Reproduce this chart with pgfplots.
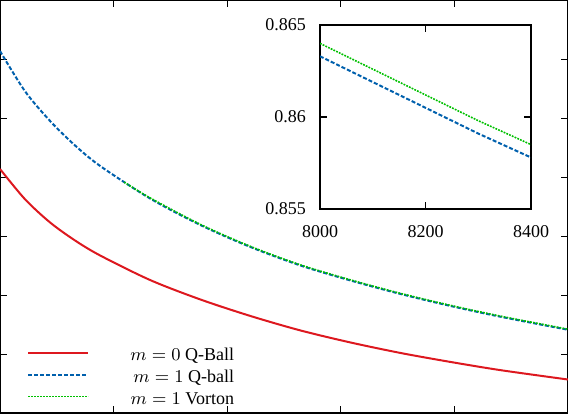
\documentclass[border=0pt]{standalone}
\usepackage{pgfplots}
\pgfplotsset{compat=1.18}
\usepackage{fontspec}
\setmainfont{Liberation Serif}
\definecolor{qred}{HTML}{DD181F}
\definecolor{qblue}{HTML}{0060AD}
\definecolor{qgreen}{HTML}{00C000}
\begin{document}
\begin{tikzpicture}
\begin{axis}[
    scale only axis, width=284pt, height=206.5pt,
    xmin=5000, xmax=10000, ymin=0.80, ymax=0.94,
    xtick={6000,7000,8000,9000}, ytick={0.82,0.84,0.86,0.88,0.90,0.92},
    xticklabel={}, yticklabel={},
    major tick length=3.5pt,
    axis line style={line width=1pt},
    every tick/.style={black, line width=0.5pt},
    legend cell align=right,
    legend style={draw=none, fill=none, at={(rel axis cs:0,0)}, anchor=south west,
        xshift=13.5pt, yshift=4pt, inner sep=0pt, row sep=3pt,
        font=\fontsize{9}{11}\selectfont,
        nodes={inner sep=0pt, text height=8pt, text depth=0pt}},
    legend image code/.code={\draw[#1] (0pt,0pt) -- (30pt,0pt); \path[draw=none] (0pt,0pt) -- (51pt,0pt);},
]
\addplot[qred, line width=1pt, smooth] coordinates {
    (5000,0.88271) (5220,0.87247) (5441,0.86458) (5661,0.85847) (5882,0.85339)
    (6323,0.84505) (6764,0.83848) (7205,0.83288) (7646,0.82797) (8086,0.82390)
    (8527,0.82034) (8968,0.81729) (9409,0.81451) (10000,0.81135)
};
\addlegendentry{$m=0$ Q-Ball}
\addplot[qblue, line width=1pt, dash pattern=on 2pt off 1pt, smooth] coordinates {
    (5000,0.92271) (5220,0.90908) (5441,0.89898) (5661,0.89068) (5882,0.88373)
    (6323,0.87268) (6764,0.86373) (7205,0.85627) (7646,0.85000) (8086,0.84492)
    (8527,0.84034) (8968,0.83627) (9409,0.83261) (10000,0.82821)
};
\addlegendentry{$m=1$ Q-ball}
\addplot[qgreen, line width=0.8pt, dash pattern=on 0.9pt off 0.6pt, smooth] coordinates {
    (6093,0.87827) (6323,0.87288) (6764,0.86393) (7205,0.85647) (7646,0.85020)
    (8086,0.84512) (8527,0.84054) (8968,0.83647) (9409,0.83281) (10000,0.82841)
};
\addlegendentry{$m=1$ Vorton}
\coordinate (sw) at (rel axis cs:0,0);
\coordinate (ne) at (rel axis cs:1,1);
\end{axis}
\begin{axis}[
    at={(160pt,102pt)}, anchor=south west,
    scale only axis, width=105.5pt, height=92pt,
    xmin=8000, xmax=8400, ymin=0.855, ymax=0.865,
    xtick={8000,8200,8400}, ytick={0.855,0.86,0.865},
    scaled ticks=false,
    /pgf/number format/.cd, fixed, precision=3, 1000 sep={}, assume math mode=true,
    /pgfplots/.cd,
    tick label style={font=\fontsize{9}{11}\selectfont},
    yticklabel style={xshift=-3.5pt},
    xticklabel style={yshift=-4.5pt},
    major tick length=3.5pt,
    axis line style={line width=0.8pt},
    every tick/.style={black, line width=0.6pt},
]
\addplot[qblue, line width=1pt, dash pattern=on 2pt off 1pt] coordinates {
    (8000,0.8633) (8100,0.8619) (8200,0.8605) (8300,0.8591) (8400,0.8578)
};
\addplot[qgreen, line width=0.8pt, dash pattern=on 0.9pt off 0.6pt] coordinates {
    (8000,0.8640) (8100,0.8626) (8200,0.8612) (8300,0.8598) (8400,0.8585)
};
\end{axis}
\pgfresetboundingbox
\path[use as bounding box] (sw) rectangle (ne);
\end{tikzpicture}
\end{document}
